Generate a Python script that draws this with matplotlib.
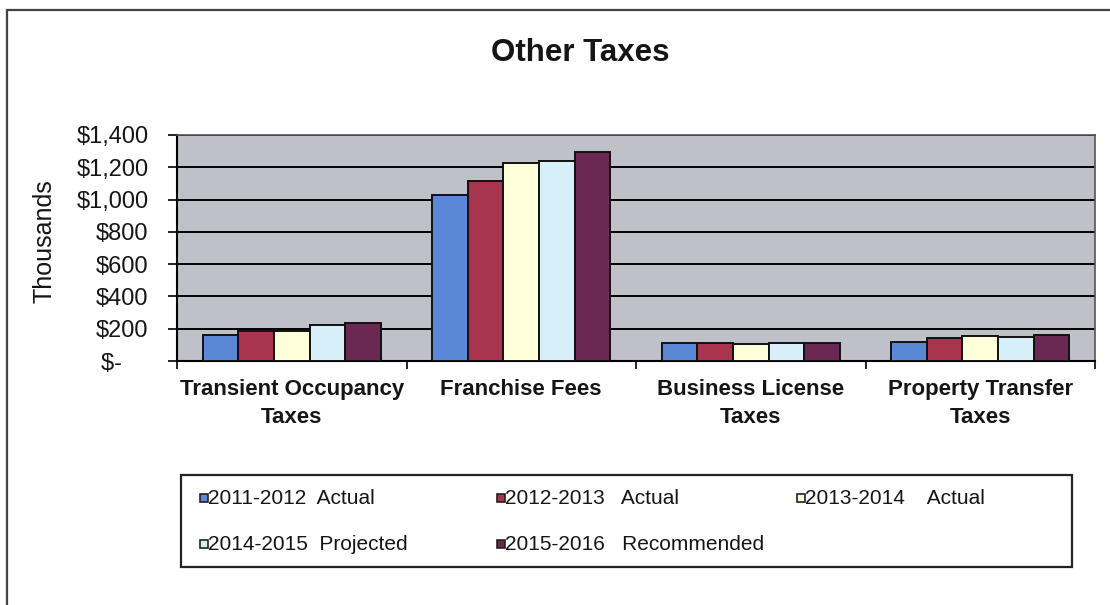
import matplotlib
matplotlib.use("Agg")
import matplotlib.pyplot as plt
from matplotlib.patches import Rectangle
from matplotlib.ticker import FixedLocator, FuncFormatter
import numpy as np

plt.rcParams['font.family'] = ['Liberation Sans', 'DejaVu Sans']

# --- data (thousands of dollars) ---
categories = ["Transient Occupancy\nTaxes", "Franchise Fees",
              "Business License\nTaxes", "Property Transfer\nTaxes"]
series_names = ["2011-2012  Actual", "2012-2013   Actual", "2013-2014    Actual",
                "2014-2015  Projected", "2015-2016   Recommended"]
fy2012_actual = [161, 1028, 110, 120]
fy2013_actual = [186, 1115, 110, 141]
fy2014_actual = [186, 1228, 105, 155]
fy2015_projected = [223, 1239, 110, 151]
fy2016_recommended = [237, 1297, 112, 161]
series_values = [fy2012_actual, fy2013_actual, fy2014_actual,
                 fy2015_projected, fy2016_recommended]
y_ticks = [0, 200, 400, 600, 800, 1000, 1200, 1400]

colors = ["#5A88D6", "#A8344E", "#FFFFDC", "#D6EFF9", "#6B2852"]
text_color = "#151515"

W, H = 1110, 605
fig = plt.figure(figsize=(W / 100, H / 100), dpi=100)
fig.patch.set_facecolor("white")

def fx(px):
    return px / W

def fy(py):
    return 1 - py / H

ax = fig.add_axes([fx(177), fy(361), fx(1095) - fx(177), fy(135) - fy(361)])
ax.set_facecolor("#C0C0C8")

x = np.arange(len(categories))
bar_w = 0.155
offsets = (np.arange(len(series_values)) - 2) * bar_w
for vals, off, col, name in zip(series_values, offsets, colors, series_names):
    ax.bar(x + off, vals, width=bar_w, color=col, edgecolor="#111111",
           linewidth=1.4, zorder=3, label=name)

ax.set_xlim(-0.5, len(categories) - 0.5)
ax.set_ylim(0, 1400)

# horizontal gridlines
ax.yaxis.set_major_locator(FixedLocator(y_ticks))
ax.grid(axis="y", color="black", linewidth=1.4, zorder=1)
ax.grid(axis="x", visible=False)
ax.set_axisbelow(True)

def money(v, _pos):
    if v == 0:
        return "$-    "
    return "${:,.0f}".format(v)

ax.yaxis.set_major_formatter(FuncFormatter(money))
ax.tick_params(axis="y", which="major", length=6.5, width=1.2, direction="out",
               labelsize=17, pad=14, colors="black", labelcolor=text_color)

# category boundaries as major ticks, names as minor ticks at centers
ax.set_xticks(np.arange(len(categories) + 1) - 0.5)
ax.set_xticklabels([])
ax.set_xticks(x, minor=True)
ax.set_xticklabels(categories, minor=True, fontsize=16, fontweight="bold",
                   linespacing=1.45, color=text_color)
ax.tick_params(axis="x", which="major", length=6, width=1.2, direction="out")
ax.tick_params(axis="x", which="minor", length=0, pad=13)

for side in ("left", "bottom"):
    ax.spines[side].set_color("black")
    ax.spines[side].set_linewidth(1.5)
for side in ("top", "right"):
    ax.spines[side].set_color("#555555")
    ax.spines[side].set_linewidth(1.2)

# title and axis label
fig.text(fx(580), fy(53), "Other Taxes", ha="center", va="center",
         fontsize=22.5, fontweight="bold", color=text_color)
fig.text(fx(44), fy(241), "Thousands", ha="center", va="center",
         rotation=90, fontsize=18, color=text_color)

# outer chart frame (left and top edges visible)
fig.add_artist(Rectangle((fx(7), fy(620)), fx(1130) - fx(7), fy(10) - fy(620),
                         transform=fig.transFigure, fill=False,
                         edgecolor="#444444", linewidth=1.6))

# legend box
fig.add_artist(Rectangle((fx(181), fy(567)), fx(1072) - fx(181), fy(475) - fy(567),
                         transform=fig.transFigure, fill=False,
                         edgecolor="#222222", linewidth=1.6))
entry_pos = [(200, 498), (497, 498), (797, 498), (200, 544), (497, 544)]
sq = 8
for (px, py), col, name in zip(entry_pos, colors, series_names):
    fig.add_artist(Rectangle((fx(px), fy(py + sq / 2)), fx(sq), sq / H,
                             transform=fig.transFigure, facecolor=col,
                             edgecolor="#222222", linewidth=1.2))
    fig.text(fx(px + sq), fy(py), name, ha="left", va="center",
             fontsize=15, color=text_color)

fig.savefig("out.png", dpi=100)
